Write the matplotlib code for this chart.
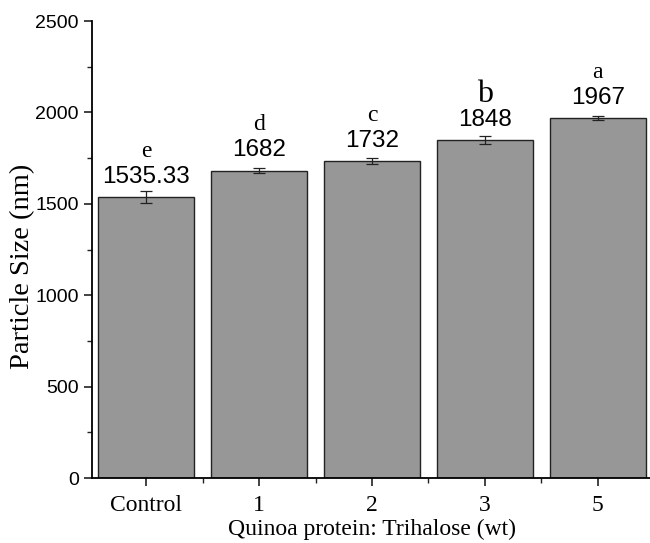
import matplotlib
matplotlib.use('Agg')
import matplotlib.pyplot as plt
import numpy as np
from matplotlib.ticker import MultipleLocator

# data
groups = ['Control', '1', '2', '3', '5']
sizes = [1535.33, 1682, 1732, 1848, 1967]
errors = [33, 15, 16, 22, 11]
value_labels = ['1535.33', '1682', '1732', '1848', '1967']
letters = ['e', 'd', 'c', 'b', 'a']

serif = 'Liberation Serif'
sans = 'Liberation Sans'

fig = plt.figure(figsize=(6.5, 5.43), dpi=100)
ax = fig.add_axes([0.1415, 0.1197, 0.8615, 0.8416])

x = np.arange(len(groups))
ax.bar(x, sizes, width=0.85, color='#979797', edgecolor='#222222', linewidth=1.0, zorder=2)
ax.errorbar(x, sizes, yerr=errors, fmt='none', ecolor='#222222', elinewidth=0.9,
            capsize=4, capthick=0.9, zorder=3)

# value labels and significance letters
for xi, v, lab, let in zip(x, sizes, value_labels, letters):
    ax.text(xi, v + 112, lab, ha='center', va='center', fontsize=17.5, family=sans)
    fs = 23 if let == 'b' else 17
    ax.text(xi, v + 250, let, ha='center', va='center', fontsize=fs, family=serif)

ax.set_xlim(-0.48, 4.48)
ax.set_ylim(0, 2500)
ax.set_xticks(x)
ax.set_xticklabels(groups, family=serif, fontsize=17)
ax.xaxis.set_minor_locator(MultipleLocator(1, offset=0.5))
yt = np.arange(0, 2501, 500)
ax.set_yticks(yt)
ax.set_yticklabels([str(v) for v in yt], family=sans, fontsize=14)
ax.yaxis.set_minor_locator(MultipleLocator(250))

ax.tick_params(axis='both', which='major', direction='out', length=6, width=1.2, color='#222222')
ax.tick_params(axis='both', which='minor', direction='out', length=3.5, width=1.0, color='#222222')
ax.tick_params(axis='x', which='major', pad=6)

ax.spines['top'].set_visible(False)
ax.spines['right'].set_visible(False)
ax.spines['left'].set_linewidth(1.3)
ax.spines['bottom'].set_linewidth(1.3)

ax.set_ylabel('Particle Size (nm)', family=serif, fontsize=20.5)
ax.yaxis.set_label_coords(-0.102, 0.462)
ax.set_xlabel('Quinoa protein: Trihalose (wt)', family=serif, fontsize=17, labelpad=2)

fig.savefig('out.png', dpi=100)
